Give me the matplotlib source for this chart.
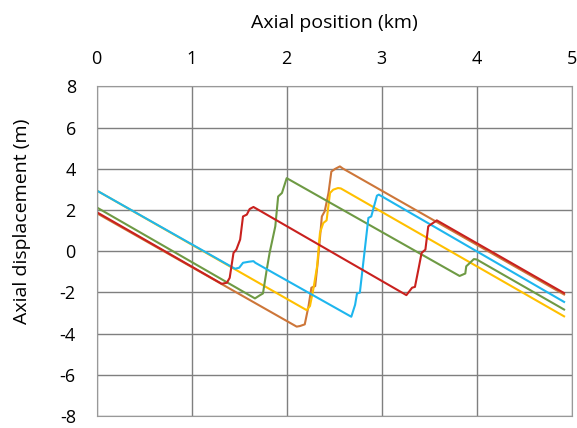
import matplotlib.pyplot as plt

# Axial displacement profiles (km, m)
brown_x = [0, 2.105, 2.14, 2.19, 2.23, 2.26, 2.30, 2.33, 2.37, 2.40, 2.44, 2.47, 2.51, 2.56, 2.59, 4.92]
brown_y = [1.85, -3.66, -3.63, -3.55, -2.66, -1.77, -1.69, -0.40, 1.69, 1.94, 2.83, 3.87, 4.00, 4.12, 4.02, -2.10]

yellow_x = [0, 2.21, 2.245, 2.28, 2.32, 2.35, 2.385, 2.42, 2.456, 2.49, 2.54, 2.57, 4.92]
yellow_y = [2.95, -2.86, -2.66, -1.85, -0.73, 0.89, 1.37, 1.50, 2.83, 2.99, 3.07, 3.05, -3.16]

green_x = [0, 1.666, 1.72, 1.75, 1.79, 1.82, 1.88, 1.91, 1.95, 2.00, 3.82, 3.88, 3.89, 3.93, 3.97, 4.00, 4.92]
green_y = [2.13, -2.29, -2.13, -2.05, -0.89, -0.08, 1.21, 2.66, 2.83, 3.55, -1.20, -1.08, -0.73, -0.56, -0.38, -0.40, -2.83]

blue_x = [0, 1.456, 1.50, 1.54, 1.60, 1.65, 1.67, 2.68, 2.72, 2.74, 2.77, 2.81, 2.86, 2.89, 2.95, 2.97, 4.92]
blue_y = [2.95, -0.85, -0.80, -0.56, -0.51, -0.48, -0.56, -3.18, -2.60, -2.05, -2.01, -0.40, 1.62, 1.69, 2.70, 2.75, -2.46]

red_x = [0, 1.316, 1.37, 1.40, 1.44, 1.47, 1.51, 1.54, 1.58, 1.61, 1.65,
         3.26, 3.32, 3.35, 3.39, 3.42, 3.46, 3.49, 3.53, 3.58, 4.92]
red_y = [1.90, -1.58, -1.53, -1.29, -0.08, 0.08, 0.57, 1.69, 1.78, 2.05, 2.15,
         -2.13, -1.77, -1.73, -0.80, -0.08, 0.08, 1.21, 1.34, 1.50, -2.03]

x_ticks = [0, 1, 2, 3, 4, 5]
y_ticks = [-8, -6, -4, -2, 0, 2, 4, 6, 8]

plt.rcParams['font.family'] = ['Open Sans', 'DejaVu Sans']
plt.rcParams['axes.unicode_minus'] = False

fig = plt.figure(figsize=(5.77, 4.28), dpi=100)
ax = fig.add_axes([0.1676, 0.028, 0.8232, 0.7699])

ax.plot(brown_x, brown_y, color='#CD7639', lw=1.5)
ax.plot(yellow_x, yellow_y, color='#FFC000', lw=1.5)
ax.plot(green_x, green_y, color='#6E9A44', lw=1.5)
ax.plot(blue_x, blue_y, color='#1EB6EE', lw=1.5)
ax.plot(red_x, red_y, color='#C9211E', lw=1.5)

ax.set_xlim(0, 5)
ax.set_ylim(-8, 8)
ax.set_xticks(x_ticks)
ax.set_yticks(y_ticks)
ax.xaxis.tick_top()
ax.xaxis.set_label_position('top')
ax.tick_params(length=0, labelsize=13, colors='black')
ax.tick_params(axis='x', pad=13)
ax.tick_params(axis='y', pad=15)
ax.grid(True, color='#7f7f7f', lw=1)
ax.set_axisbelow(True)
for s in ax.spines.values():
    s.set_color('#999999')

ax.set_xlabel('Axial position (km)', fontsize=14, labelpad=16)
# y label sits a bit above the axes centre in the original
fig.text(22 / 577, 1 - 221.5 / 428, 'Axial displacement (m)', fontsize=14,
         rotation=90, ha='center', va='center')

fig.savefig('out.png', dpi=100)
